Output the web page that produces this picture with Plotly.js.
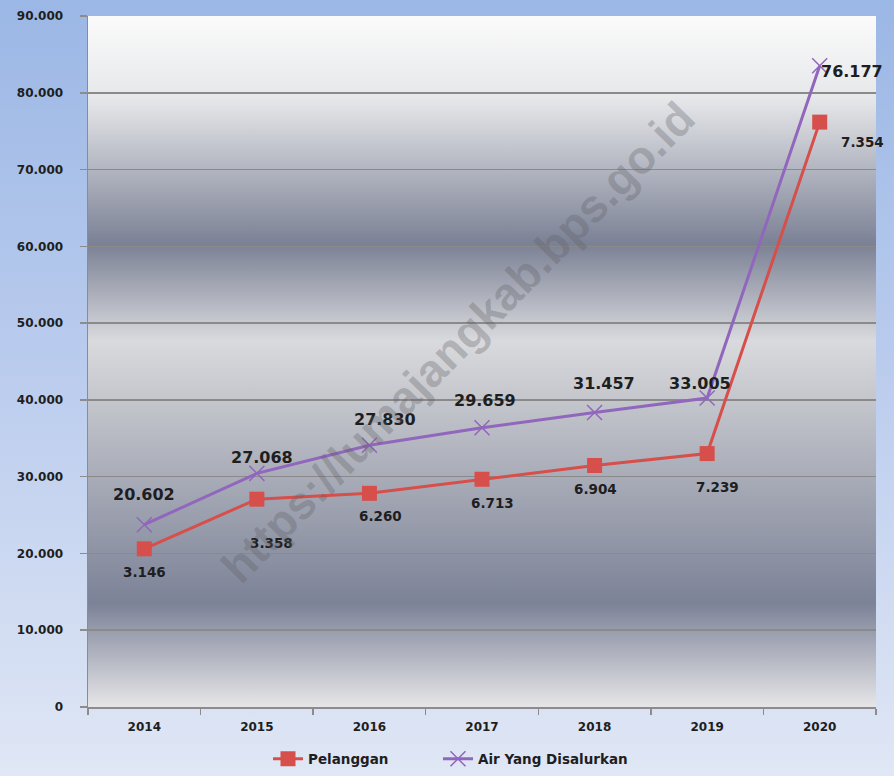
<!DOCTYPE html>
<html>
<head>
<meta charset="utf-8">
<script src="https://cdn.plot.ly/plotly-3.0.1.min.js"></script>
<style>html,body{margin:0;padding:0;background:#fff;}#chart{width:894px;height:776px;}</style>
</head>
<body>
<div id="chart"></div>
<script>
// ---- data ----
var years = ['2014', '2015', '2016', '2017', '2018', '2019', '2020'];
var pelanggan = [20602, 27068, 27830, 29659, 31457, 33005, 76177];   // lower (red) line
var airDisalurkan = [3146, 3358, 6260, 6713, 6904, 7239, 7354];       // stacked on top (purple)
var yTicks = [0, 10000, 20000, 30000, 40000, 50000, 60000, 70000, 80000, 90000];

// stacked-line: second series drawn on top of the first
var stackedTop = pelanggan.map(function (v, i) { return v + airDisalurkan[i]; });

// ---- label placement (style only) ----
var topShiftX = [0, 5, 16, 3, 9, -7, 32];
var topShiftY = [30, 16, 26, 27, 29, 15, -6];
var botShiftX = [0, 15, 11, 10, 1, 10, 43];
var botShiftY = [-23, -44, -23, -24, -24, -33, -20];

function fmt(v) { return (v / 1000).toFixed(3); }

var M = {l: 88, r: 18, t: 16, b: 69, autoexpand: false};
var W = 894, H = 776;
var pw = W - M.l - M.r, ph = H - M.t - M.b;

var red = '#d64f4a', purple = '#9166bd';

var traces = [
  {
    x: years, y: pelanggan, name: 'Pelanggan', type: 'scatter', mode: 'lines+markers',
    line: {color: red, width: 3},
    marker: {symbol: 'square', size: 15, color: red},
    hoverinfo: 'skip', legend: 'legend'
  },
  {
    x: years, y: stackedTop, name: 'Air Yang Disalurkan', type: 'scatter', mode: 'lines+markers',
    line: {color: purple, width: 3},
    marker: {symbol: 'x-thin-open', size: 15, color: purple, line: {color: purple, width: 1.5}},
    hoverinfo: 'skip', legend: 'legend2'
  }
];

var annotations = [];
for (var i = 0; i < years.length; i++) {
  annotations.push({
    x: i, y: stackedTop[i], xref: 'x', yref: 'y',
    text: fmt(pelanggan[i]), showarrow: false,
    xshift: topShiftX[i], yshift: topShiftY[i],
    font: {family: 'DejaVu Sans', size: 16, color: '#1e1e1e', weight: 'bold'}
  });
  annotations.push({
    x: i, y: pelanggan[i], xref: 'x', yref: 'y',
    text: fmt(airDisalurkan[i]), showarrow: false,
    xshift: botShiftX[i], yshift: botShiftY[i],
    font: {family: 'DejaVu Sans', size: 13.5, color: '#1e1e1e', weight: 'bold'}
  });
}
// watermark
annotations.push({
  x: (458 - M.l) / pw, y: 1 - (342 - M.t) / ph, xref: 'paper', yref: 'paper', showarrow: false,
  text: 'https://lumajangkab.bps.go.id', textangle: -45.5,
  font: {family: 'Liberation Sans', size: 46, color: 'rgba(95,95,100,0.32)', weight: 'bold'}
});

function svgUri(svg) { return 'data:image/svg+xml;charset=utf-8,' + encodeURIComponent(svg); }

var paperSvg = '<svg xmlns="http://www.w3.org/2000/svg" width="100" height="100" preserveAspectRatio="none">' +
  '<defs><linearGradient id="g" x1="0" y1="0" x2="0" y2="1">' +
  '<stop offset="0" stop-color="#9bb7e5"/><stop offset="0.5" stop-color="#bccdee"/><stop offset="1" stop-color="#e0e7f5"/>' +
  '</linearGradient></defs><rect width="100" height="100" fill="url(#g)"/></svg>';

var plotSvg = '<svg xmlns="http://www.w3.org/2000/svg" width="100" height="100" preserveAspectRatio="none">' +
  '<defs><linearGradient id="p" x1="0" y1="0" x2="0" y2="1">' +
  '<stop offset="0" stop-color="#fbfbfb"/>' +
  '<stop offset="0.12" stop-color="#e6e7e9"/>' +
  '<stop offset="0.33" stop-color="#7b8195"/>' +
  '<stop offset="0.47" stop-color="#d9dadd"/>' +
  '<stop offset="0.62" stop-color="#b4b7c0"/>' +
  '<stop offset="0.85" stop-color="#7c8297"/>' +
  '<stop offset="1" stop-color="#e6e6e8"/>' +
  '</linearGradient></defs><rect width="100" height="100" fill="url(#p)"/></svg>';

var legendFont = {family: 'DejaVu Sans', size: 13.5, color: '#1e1e1e', weight: 'bold'};
var legendY = -(759 - (M.t + ph)) / ph;

var layout = {
  width: W, height: H,
  margin: M,
  paper_bgcolor: '#c5d3ee',
  plot_bgcolor: 'rgba(0,0,0,0)',
  separators: ',.',
  showlegend: true,
  legend: {
    orientation: 'h', x: (268 - M.l) / pw, xanchor: 'left', y: legendY, yanchor: 'middle',
    font: legendFont, bgcolor: 'rgba(0,0,0,0)', itemwidth: 30
  },
  legend2: {
    orientation: 'h', x: (438 - M.l) / pw, xanchor: 'left', y: legendY, yanchor: 'middle',
    font: legendFont, bgcolor: 'rgba(0,0,0,0)', itemwidth: 30
  },
  xaxis: {
    type: 'category', categoryarray: years, categoryorder: 'array',
    range: [-0.5, years.length - 0.5],
    showgrid: false, showline: true, linecolor: '#8c8c8c', linewidth: 1.5,
    ticks: 'outside', tickson: 'boundaries', ticklen: 6, tickcolor: '#8c8c8c', tickwidth: 1.5,
    tickangle: 0,
    tickfont: {family: 'DejaVu Sans', size: 12, color: '#1e1e1e', weight: 'bold'},
    ticklabelstandoff: 8, fixedrange: true
  },
  yaxis: {
    range: [0, 90000], tickvals: yTicks, tickformat: ',d',
    showgrid: true, gridcolor: '#8a8a8a', gridwidth: 1.5, zeroline: false,
    showline: true, linecolor: '#8c8c8c', linewidth: 1.5,
    ticks: 'outside', ticklen: 7, tickcolor: '#8c8c8c', tickwidth: 1.5,
    tickfont: {family: 'DejaVu Sans', size: 12, color: '#1e1e1e', weight: 'bold'},
    ticklabelstandoff: 14, fixedrange: true
  },
  annotations: annotations,
  images: [
    {source: svgUri(paperSvg), xref: 'paper', yref: 'paper', x: -M.l / pw, y: 1 + M.t / ph,
     sizex: W / pw, sizey: H / ph, sizing: 'stretch', layer: 'below', xanchor: 'left', yanchor: 'top'},
    {source: svgUri(plotSvg), xref: 'paper', yref: 'paper', x: 0, y: 1, sizex: 1, sizey: 1,
     sizing: 'stretch', layer: 'below', xanchor: 'left', yanchor: 'top'}
  ]
};

Plotly.newPlot('chart', traces, layout, {displayModeBar: false, staticPlot: true});
</script>
</body>
</html>
